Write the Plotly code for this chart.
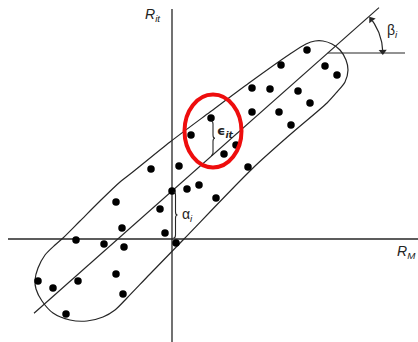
import numpy as np
import plotly.graph_objects as go

# Market return (x) and stock return (y) observations, origin at the axes crossing
ret_market = [-21, 7, 19, 39, 52, 64, 76, 44, 0, 15, 27, 80, 98, 126, 80, 107, 138, 119,
              135, 109, 153, 165, -56, -12, -50, -7, -96, -68, -48, 4, -134, -119, -94,
              -56, -49, -106]
ret_stock = [70, 73, 104, 121, 85, 94, 72, 41, 48, 50, 54, 151, 150, 148, 127, 127, 136, 114,
             189, 174, 173, 164, 37, 30, 11, 6, -1, -5, -8, -4, -42, -49, -42, -35, -55, -75]

# Characteristic line  R_it = alpha + beta * R_M
alpha = 48
beta = 0.886
line_x = [-138, 207]

# Hand-drawn envelope around the scatter
outline_x = [134, 143, 151, 160, 168, 174, 176, 173, 165, 155, 120, 81, 11, -22, -45, -57, -69,
             -85, -102, -119, -130, -136, -137, -134, -127, -117, -109, -92, -72, -52, -38,
             -2, 38, 77, 118, 134]
outline_y = [195, 198, 198, 195, 189, 179, 169, 157, 147, 136, 106, 71, -1, -35, -59, -71, -78,
             -82, -81, -74, -62, -50, -41, -29, -16, -6, 1, 18, 38, 57, 68,
             97, 127, 156, 185, 195]

# Highlighted residual observation
resid_idx = 3

INK = "#262626"
X_RANGE = [-172, 246]
Y_RANGE = [-103, 239]

fig = go.Figure()

# axes
fig.add_trace(go.Scatter(x=[-164, 246], y=[0, 0], mode="lines",
                         line=dict(color=INK, width=1.4), hoverinfo="skip"))
fig.add_trace(go.Scatter(x=[0, 0], y=[230, -103], mode="lines",
                         line=dict(color=INK, width=1.3), hoverinfo="skip"))

# envelope
fig.add_trace(go.Scatter(x=outline_x, y=outline_y, mode="lines",
                         line=dict(color=INK, width=1.2, shape="spline", smoothing=0.8),
                         hoverinfo="skip"))

# characteristic line
fig.add_trace(go.Scatter(x=line_x, y=[alpha + beta * v for v in line_x], mode="lines",
                         line=dict(color=INK, width=1.2), hoverinfo="skip"))

# beta angle: horizontal reference and arc with arrowheads at both ends
vx = (186 - alpha) / beta
vy = alpha + beta * vx
fig.add_trace(go.Scatter(x=[vx, 233], y=[vy, vy], mode="lines",
                         line=dict(color=INK, width=1.2), hoverinfo="skip"))
r = 55
th = np.radians(np.linspace(2, 36, 40))
fig.add_trace(go.Scatter(x=vx + r * np.cos(th), y=vy + r * np.sin(th), mode="lines",
                         line=dict(color=INK, width=1.2), hoverinfo="skip"))
tips = np.radians([37.5, 1.5])
fig.add_trace(go.Scatter(
    x=vx + r * np.cos(tips), y=vy + r * np.sin(tips), mode="markers",
    marker=dict(symbol="triangle-up", size=7, color=INK, angle=[-37.5, 178.5]),
    hoverinfo="skip"))

# observations
fig.add_trace(go.Scatter(x=ret_market, y=ret_stock, mode="markers",
                         marker=dict(color="black", size=7.5), hoverinfo="skip"))


def brace(x, yt, yb, w):
    ym = (yt + yb) / 2
    h = w / 2
    return (f"M {x},{yt} Q {x + h},{yt} {x + h},{yt - 3} L {x + h},{ym + 3} "
            f"Q {x + h},{ym} {x + w},{ym} Q {x + h},{ym} {x + h},{ym - 3} "
            f"L {x + h},{yb + 3} Q {x + h},{yb} {x},{yb}")


# alpha brace
fig.add_shape(type="path", path=brace(1.5, alpha - 1, 1, 4),
              line=dict(color=INK, width=1.1))
# residual brace
ex = ret_market[resid_idx]
fig.add_shape(type="path", path=brace(ex, ret_stock[resid_idx] - 3, alpha + beta * ex + 1, 4),
              line=dict(color=INK, width=1.1))

# highlight ring
fig.add_shape(type="circle", x0=12.5, x1=69.5, y0=71.5, y1=144.5,
              line=dict(color="#ee0d0d", width=4))

LBL = dict(family="Liberation Sans, Arial, sans-serif", color="#222", size=14)
fig.add_annotation(x=-19, y=224, text="<i>R<sub>it</sub></i>", showarrow=False, font=LBL)
fig.add_annotation(x=246, y=-13, text="<i>R<sub>M</sub></i>", showarrow=False, font=LBL,
                   xanchor="right")
fig.add_annotation(x=15, y=24, text="α<sub><i>i</i></sub>", showarrow=False, font=LBL)
fig.add_annotation(x=220, y=208, text="β<sub><i>i</i></sub>", showarrow=False, font=LBL)
fig.add_annotation(x=53, y=108, text="<b>ϵ<sub><i>it</i></sub></b>", showarrow=False,
                   font=dict(family="DejaVu Sans, sans-serif", color="#222", size=13))

fig.update_layout(
    width=418, height=342, margin=dict(l=0, r=0, t=0, b=0),
    paper_bgcolor="white", plot_bgcolor="white", showlegend=False,
    xaxis=dict(range=X_RANGE, visible=False, fixedrange=True),
    yaxis=dict(range=Y_RANGE, visible=False, fixedrange=True),
)

fig.write_html("out.html")
